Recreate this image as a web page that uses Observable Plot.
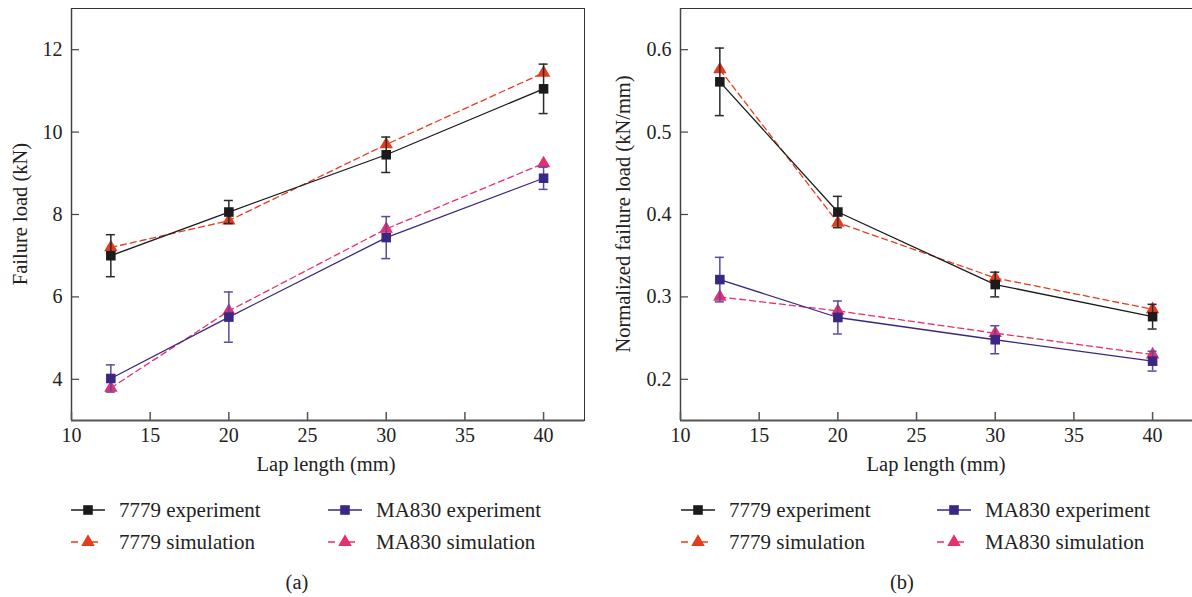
<!DOCTYPE html>
<html>
<head>
<meta charset="utf-8">
<script src="https://cdn.jsdelivr.net/npm/d3@7"></script>
<script src="https://cdn.jsdelivr.net/npm/@observablehq/plot@0.6"></script>
<style>
  html, body { margin: 0; padding: 0; background: #fff; }
  #root { position: relative; width: 1192px; height: 597px; overflow: hidden; font-family: "Liberation Serif", "DejaVu Serif", serif; }
  #root > svg, #root > figure { position: absolute; margin: 0; }
</style>
</head>
<body>
<div id="root"></div>
<script>
// ---------- data ----------
const lapLength = [12.5, 20, 30, 40];

const load7779Exp = [7.0, 8.06, 9.45, 11.05];
const load7779ExpErr = [0.51, 0.28, 0.43, 0.60];
const load7779Sim = [7.20, 7.85, 9.70, 11.44];
const loadMA830Exp = [4.02, 5.51, 7.44, 8.88];
const loadMA830ExpErr = [0.33, 0.61, 0.51, 0.27];
const loadMA830Sim = [3.79, 5.66, 7.65, 9.24];

const norm7779Exp = [0.561, 0.403, 0.315, 0.276];
const norm7779ExpErr = [0.041, 0.019, 0.015, 0.015];
const norm7779Sim = [0.576, 0.390, 0.323, 0.285];
const normMA830Exp = [0.321, 0.275, 0.248, 0.222];
const normMA830ExpErr = [0.027, 0.020, 0.017, 0.012];
const normMA830Sim = [0.300, 0.283, 0.256, 0.230];

const xTicks = [10, 15, 20, 25, 30, 35, 40];
const yTicksA = [4, 6, 8, 10, 12];
const yTicksB = [0.2, 0.3, 0.4, 0.5, 0.6];

const xTitle = "Lap length (mm)";
const yTitleA = "Failure load (kN)";
const yTitleB = "Normalized failure load (kN/mm)";
const captions = ["(a)", "(b)"];

const seriesColors = {
  "7779 experiment": "#1b1b1b",
  "7779 simulation": "#e63c1e",
  "MA830 experiment": "#3a2783",
  "MA830 simulation": "#e52f6e"
};
const errColors = { "7779 experiment": "#2a2a2a", "MA830 experiment": "#5b4a9e" };

// ---------- helpers ----------
function rows(name, ys, errs) {
  return lapLength.map((x, i) => ({ series: name, x, y: ys[i], err: errs ? errs[i] : 0 }));
}

const FONT = "Liberation Serif";
const TICK_FS = 20;
const TEXT_FS = 20.5;
const LEGEND_FS = 21;

function panel({ exp7779, err7779, sim7779, expMA, errMA, simMA, yDomain, yTicks, yFormat, marginLeft, marginRight, width }) {
  const e1 = rows("7779 experiment", exp7779, err7779);
  const e2 = rows("MA830 experiment", expMA, errMA);
  const s1 = rows("7779 simulation", sim7779);
  const s2 = rows("MA830 simulation", simMA);
  const simLine = (d, name) => Plot.line(d, { x: "x", y: "y", stroke: seriesColors[name], strokeWidth: 1.3, strokeDasharray: "6,4" });
  const expLine = (d, name) => Plot.line(d, { x: "x", y: "y", stroke: seriesColors[name], strokeWidth: 1.3 });
  const errBars = (d, name) => [
    Plot.ruleX(d, { x: "x", y1: r => r.y - r.err, y2: r => r.y + r.err, stroke: errColors[name], strokeWidth: 1.5 }),
    Plot.ruleY(d, { x1: "x", x2: "x", y: r => r.y + r.err, stroke: errColors[name], strokeWidth: 1.5, insetLeft: -4.5, insetRight: -4.5 }),
    Plot.ruleY(d, { x1: "x", x2: "x", y: r => r.y - r.err, stroke: errColors[name], strokeWidth: 1.5, insetLeft: -4.5, insetRight: -4.5 })
  ];
  return Plot.plot({
    width, height: 460,
    marginLeft, marginRight, marginTop: 8, marginBottom: 40,
    style: { fontFamily: FONT, fontSize: TICK_FS + "px", color: "#222", background: "transparent", overflow: "visible" },
    x: { domain: [10, 42.6] },
    y: { domain: yDomain },
    marks: [
      Plot.frame({ stroke: "#333", strokeWidth: 1 }),
      Plot.ruleY([yDomain[0]], { stroke: "#555", strokeWidth: 2 }),
      Plot.ruleX([10], { stroke: "#444", strokeWidth: 1.5 }),
      // inward ticks
      Plot.axisX(xTicks, { tickSize: 8, dy: -8, tickFormat: () => "", label: null, stroke: "#555", strokeWidth: 1.5 }),
      Plot.axisY(yTicks, { tickSize: 8, dx: 8, tickFormat: () => "", label: null, stroke: "#444", strokeWidth: 1.2 }),
      // tick labels
      Plot.axisX(xTicks, { tickSize: 0, tickPadding: 7, label: null, fontSize: TICK_FS }),
      Plot.axisY(yTicks, { tickSize: 0, tickPadding: 9, label: null, tickFormat: yFormat, fontSize: TICK_FS }),
      // lines
      simLine(s1, "7779 simulation"),
      simLine(s2, "MA830 simulation"),
      expLine(e1, "7779 experiment"),
      expLine(e2, "MA830 experiment"),
      // markers
      Plot.dot(s1, { x: "x", y: "y", symbol: "triangle", r: 5, fill: seriesColors["7779 simulation"] }),
      Plot.dot(s2, { x: "x", y: "y", symbol: "triangle", r: 5, fill: seriesColors["MA830 simulation"] }),
      ...errBars(e1, "7779 experiment"),
      ...errBars(e2, "MA830 experiment"),
      Plot.dot(e1, { x: "x", y: "y", symbol: "square", r: 5.4, fill: seriesColors["7779 experiment"] }),
      Plot.dot(e2, { x: "x", y: "y", symbol: "square", r: 5.4, fill: seriesColors["MA830 experiment"] })
    ]
  });
}

const root = document.getElementById("root");

const plotA = panel({
  exp7779: load7779Exp, err7779: load7779ExpErr, sim7779: load7779Sim,
  expMA: loadMA830Exp, errMA: loadMA830ExpErr, simMA: loadMA830Sim,
  yDomain: [3, 13], yTicks: yTicksA, yFormat: d3.format("d"),
  marginLeft: 71, marginRight: 12, width: 596
});
plotA.style.left = "0px"; plotA.style.top = "0px";
root.appendChild(plotA);

const plotB = panel({
  exp7779: norm7779Exp, err7779: norm7779ExpErr, sim7779: norm7779Sim,
  expMA: normMA830Exp, errMA: normMA830ExpErr, simMA: normMA830Sim,
  yDomain: [0.15, 0.65], yTicks: yTicksB, yFormat: d3.format(".1f"),
  marginLeft: 84, marginRight: 0, width: 597
});
plotB.style.left = "596px"; plotB.style.top = "0px";
root.appendChild(plotB);

// ---------- axis titles, legends & panel captions ----------
const overlay = d3.create("svg")
  .attr("width", 1192).attr("height", 597)
  .style("left", "0px").style("top", "0px").style("pointer-events", "none")
  .style("font-family", FONT).style("font-size", TEXT_FS + "px");

const panels = [
  { plotCx: 326, yTitle: yTitleA, yTitleX: 20, legendX: 71, colGap: 257, caption: captions[0], captionX: 297 },
  { plotCx: 936, yTitle: yTitleB, yTitleX: 623, legendX: 681, colGap: 256, caption: captions[1], captionX: 902 }
];
const entries = [
  { name: "7779 experiment", col: 0, row: 0, sym: "square", dash: false },
  { name: "MA830 experiment", col: 1, row: 0, sym: "square", dash: false },
  { name: "7779 simulation", col: 0, row: 1, sym: "triangle", dash: true },
  { name: "MA830 simulation", col: 1, row: 1, sym: "triangle", dash: true }
];
const rowY = [510, 542];
for (const P of panels) {
  // axis titles
  overlay.append("text").attr("x", P.plotCx).attr("y", 464).attr("dy", "0.35em")
    .attr("text-anchor", "middle").attr("fill", "#222").text(xTitle);
  overlay.append("text").attr("transform", `translate(${P.yTitleX},214) rotate(-90)`).attr("dy", "0.35em")
    .attr("text-anchor", "middle").attr("fill", "#222").text(P.yTitle);
  // legend
  for (const e of entries) {
    const gx = P.legendX + e.col * P.colGap, gy = rowY[e.row];
    const c = seriesColors[e.name];
    const g = overlay.append("g").attr("transform", `translate(${gx},${gy})`);
    g.append("line").attr("x1", 0).attr("x2", 34).attr("y1", 0).attr("y2", 0)
      .attr("stroke", c).attr("stroke-width", 1.3)
      .attr("stroke-dasharray", e.dash ? "7,13,7" : null);
    const sym = e.sym === "square" ? d3.symbolSquare : d3.symbolTriangle;
    const size = e.sym === "square" ? 92 : 80;
    g.append("path").attr("d", d3.symbol(sym, size)()).attr("transform", "translate(17,0)").attr("fill", c);
    g.append("text").attr("x", 48).attr("y", 0).attr("dy", "0.35em").attr("fill", "#222")
      .style("font-size", LEGEND_FS + "px").text(e.name);
  }
  overlay.append("text").attr("x", P.captionX).attr("y", 582).attr("dy", "0.35em")
    .attr("text-anchor", "middle").attr("fill", "#222").text(P.caption);
}
root.appendChild(overlay.node());
</script>
</body>
</html>
